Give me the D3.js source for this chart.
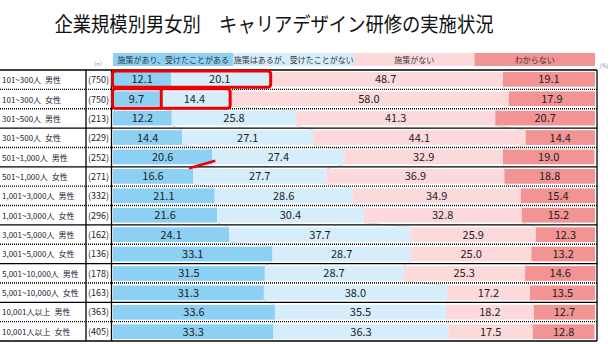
<!DOCTYPE html>
<html><head><meta charset="utf-8">
<script src="https://cdnjs.cloudflare.com/ajax/libs/d3/7.8.5/d3.min.js"></script>
<style>
html,body{margin:0;padding:0;background:#fff;}
svg{display:block;font-family:"Noto Sans CJK JP","Noto Sans",sans-serif;}
</style></head>
<body>
<script>
const title = "企業規模別男女別　キャリアデザイン研修の実施状況";
const seriesNames = ["施策があり、受けたことがある","施策はあるが、受けたことがない","施策がない","わからない"];
const sizes = ["101~300人","101~300人","301~500人","301~500人","501~1,000人","501~1,000人","1,001~3,000人","1,001~3,000人","3,001~5,000人","3,001~5,000人","5,001~10,000人","5,001~10,000人","10,001人以上","10,001人以上"];
const genders = ["男性","女性","男性","女性","男性","女性","男性","女性","男性","女性","男性","女性","男性","女性"];
const nValues = [750,750,213,229,252,271,332,296,162,136,178,163,363,405];
const s1 = [12.1,9.7,12.2,14.4,20.6,16.6,21.1,21.6,24.1,33.1,31.5,31.3,33.6,33.3];
const s2 = [20.1,14.4,25.8,27.1,27.4,27.7,28.6,30.4,37.7,28.7,28.7,38.0,35.5,36.3];
const s3 = [48.7,58.0,41.3,44.1,32.9,36.9,34.9,32.8,25.9,25.0,25.3,17.2,18.2,17.5];
const s4 = [19.1,17.9,20.7,14.4,19.0,18.8,15.4,15.2,12.3,13.2,14.6,13.5,12.7,12.8];

const colors = ["#8cd0f4","#d6eefb","#fcdadc","#f29494"];
const W = 611, H = 344;
const svg = d3.select("body").append("svg").attr("width",W).attr("height",H);

const rows = d3.range(sizes.length);
const x = d3.scaleLinear().domain([0,100]).range([113,595]);
const yRow = d3.scaleBand().domain(rows).range([70,341]).padding(0);
const yBar = d3.scaleBand().domain(rows).range([70,341]).paddingInner(0.24).paddingOuter(0.1);

const series = [s1,s2,s3,s4];
const stackData = rows.map(i => {
  let c = 0;
  return series.map((s,k) => { const r = {row:i,k,v:s[i],x0:c,x1:c+s[i]}; c += s[i]; return r; });
});

// title
svg.append("text").attr("x",274).attr("y",32).attr("text-anchor","middle")
  .attr("font-size",20).attr("fill","#111").attr("textLength",439).attr("lengthAdjust","spacingAndGlyphs")
  .text(title);

// legend
const lg = svg.append("g");
seriesNames.forEach((nm,k) => {
  const x0 = x(k*25), x1 = x((k+1)*25);
  lg.append("rect").attr("x",x0).attr("y",53).attr("width",x1-x0).attr("height",13).attr("fill",colors[k]);
  lg.append("text").attr("x",(x0+x1)/2).attr("y",63).attr("text-anchor","middle")
    .attr("font-size",8).attr("fill","#333").text(nm);
});
svg.append("text").attr("x",98).attr("y",66).attr("text-anchor","middle").attr("font-size",5.5).attr("fill","#7a8aa0").text("（n）");
svg.append("text").attr("x",604).attr("y",68).attr("text-anchor","middle").attr("font-size",5.5).attr("fill","#7a8aa0").text("(%)");

// series lines
const sl = svg.append("g").attr("stroke","#cfcfcf").attr("stroke-width",0.8);
rows.slice(0,-1).forEach(i => {
  [0,1,2].forEach(k => {
    sl.append("line")
      .attr("x1",x(stackData[i][k].x1)).attr("y1",yBar(i)+yBar.bandwidth())
      .attr("x2",x(stackData[i+1][k].x1)).attr("y2",yBar(i+1));
  });
});

// bars
const bars = svg.append("g");
stackData.forEach(segs => {
  segs.forEach(d => {
    bars.append("rect").attr("x",x(d.x0)).attr("y",yBar(d.row))
      .attr("width",x(d.x1)-x(d.x0)).attr("height",yBar.bandwidth()).attr("fill",colors[d.k]);
    bars.append("text").attr("x",(x(d.x0)+x(d.x1))/2).attr("y",yBar(d.row)+yBar.bandwidth()/2+4)
      .attr("text-anchor","middle").attr("font-size",11).attr("fill","#222").text(d.v.toFixed(1));
  });
});

// row labels
rows.forEach(i => {
  const cy = yRow(i)+yRow.bandwidth()/2+3.5;
  svg.append("text").attr("x",2).attr("y",cy).attr("font-size",8).attr("fill","#223")
    .text(sizes[i] + "\u2002" + genders[i]);
  svg.append("text").attr("x",98.5).attr("y",cy).attr("text-anchor","middle").attr("font-size",9).attr("fill","#223")
    .text("(" + nValues[i] + ")");
});

// grid lines
const solidAfter = new Set([2,4,7,9,11]);
const gl = svg.append("g").attr("stroke","#000");
rows.slice(1).forEach(i => {
  const yy = yRow(i);
  const ln = gl.append("line").attr("x1",0).attr("x2",597).attr("y1",yy).attr("y2",yy);
  if (solidAfter.has(i-1)) ln.attr("stroke-width",1.3);
  else ln.attr("stroke-width",1.4).attr("stroke-dasharray","1,1");
});
gl.append("line").attr("x1",0).attr("x2",597).attr("y1",70).attr("y2",70).attr("stroke-width",1.3);
gl.append("line").attr("x1",0).attr("x2",597).attr("y1",341).attr("y2",341).attr("stroke-width",1.3);
[86,111.5,597].forEach(xx => gl.append("line").attr("x1",xx).attr("x2",xx).attr("y1",70).attr("y2",341).attr("stroke-width",1.3));

// red annotations
const red = "#ee0000";
const ann = svg.append("g").attr("fill","none").attr("stroke",red).attr("stroke-width",3);
ann.append("rect").attr("x",x(0)-0.5).attr("y",yRow(0)+1).attr("width",x(s1[0]+s2[0])+3-x(0)).attr("height",yRow.bandwidth()-3).attr("rx",3);
ann.append("rect").attr("x",x(0)-0.5).attr("y",yRow(1)-0.5).attr("width",x(s1[1]+s2[1])+1.5-x(0)).attr("height",yRow.bandwidth()).attr("rx",3);
ann.append("line").attr("x1",x(s1[1])+1.5).attr("x2",x(s1[1])+1.5).attr("y1",yRow(1)).attr("y2",yRow(2)-1);
svg.append("line").attr("x1",x(s1[5])-4).attr("y1",yRow(5)+1.5).attr("x2",x(s1[4])+3).attr("y2",yRow(5)-6)
  .attr("stroke",red).attr("stroke-width",2.5);
</script>
</body></html>
